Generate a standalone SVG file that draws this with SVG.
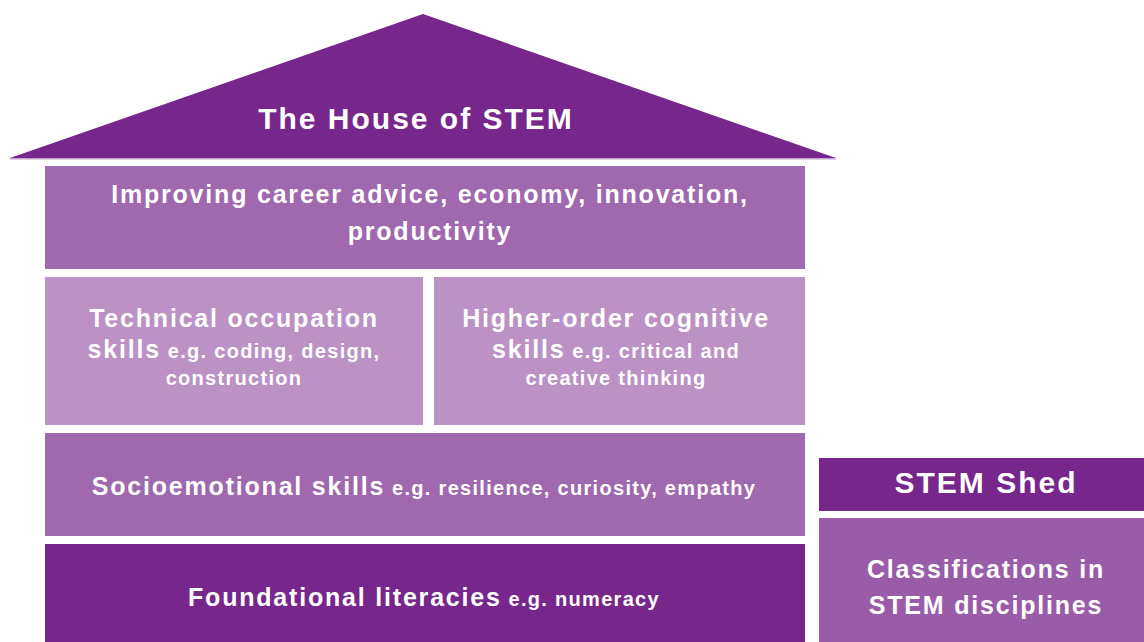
<svg xmlns="http://www.w3.org/2000/svg" width="1144" height="642" viewBox="0 0 1144 642">
<style>
text { font-family: "Liberation Sans", Arial, sans-serif; font-weight: bold; fill: #ffffff; text-anchor: middle; }
.t1 { font-size: 30px; letter-spacing: 2px; }
.t2 { font-size: 25px; letter-spacing: 1.8px; }
.t3 { font-size: 20px; letter-spacing: 1.3px; }
.dark { fill: #77278b; }
.mid { fill: #a068ae; }
.light { fill: #bb91c6; }
.cls { fill: #9a5ca9; }
</style>
<rect width="1144" height="642" fill="#ffffff"/>
<g id="roof">
  <polygon class="dark" points="423,14 10,158 836,158"/>
  <rect x="10" y="158" width="826" height="1.5" fill="#c2a0cc"/>
  <text class="t1" x="416" y="129">The House of STEM</text>
</g>
<g id="outcomes">
  <rect class="mid" x="45" y="166" width="760" height="103"/>
  <text class="t2" x="430" y="203">Improving career advice, economy, innovation,</text>
  <text class="t2" x="430" y="240">productivity</text>
</g>
<g id="technical">
  <rect class="light" x="45" y="277" width="378" height="148"/>
  <text class="t2" x="234" y="327">Technical occupation</text>
  <text x="234" y="358"><tspan class="t2">skills</tspan><tspan class="t3"> e.g. coding, design,</tspan></text>
  <text class="t3" x="234" y="385">construction</text>
</g>
<g id="higher">
  <rect class="light" x="434" y="277" width="371" height="148"/>
  <text class="t2" x="616" y="327">Higher-order cognitive</text>
  <text x="616" y="358"><tspan class="t2">skills</tspan><tspan class="t3"> e.g. critical and</tspan></text>
  <text class="t3" x="616" y="385">creative thinking</text>
</g>
<g id="socio">
  <rect class="mid" x="45" y="433" width="760" height="103"/>
  <text x="424" y="495"><tspan class="t2">Socioemotional skills</tspan><tspan class="t3"> e.g. resilience, curiosity, empathy</tspan></text>
</g>
<g id="foundational">
  <rect class="dark" x="45" y="544" width="760" height="98"/>
  <text x="424" y="606"><tspan class="t2">Foundational literacies</tspan><tspan class="t3"> e.g. numeracy</tspan></text>
</g>
<g id="shed">
  <rect class="dark" x="819" y="458" width="325" height="53"/>
  <text class="t1" x="986" y="493">STEM Shed</text>
</g>
<g id="classifications">
  <rect class="cls" x="819" y="518" width="325" height="124"/>
  <text class="t2" x="986" y="578">Classifications in</text>
  <text class="t2" x="986" y="614">STEM disciplines</text>
</g>
<g id="connectors"></g>
</svg>
